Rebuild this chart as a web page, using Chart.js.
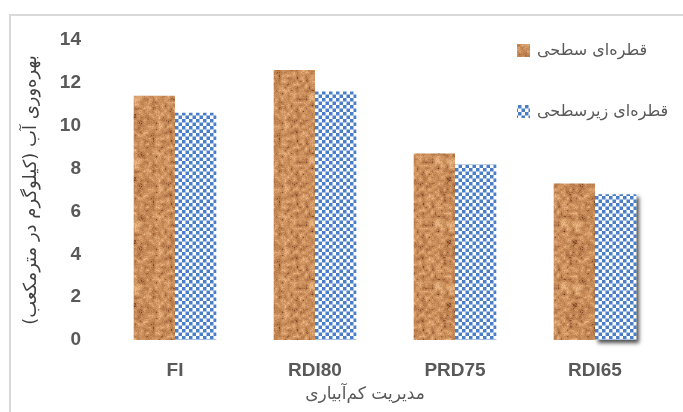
<!DOCTYPE html>
<html>
<head>
<meta charset="utf-8">
<script src="https://cdn.jsdelivr.net/npm/chart.js@4.4.1/dist/chart.umd.min.js"></script>
<style>
    html, body { margin: 0; padding: 0; background: #fff; }
    #wrap { position: relative; width: 683px; height: 412px; }
</style>
</head>
<body>
<div id="wrap"><canvas id="waterChart"></canvas></div>
<script>
// data
let categories = ['FI', 'RDI80', 'PRD75', 'RDI65'];
let surfaceValues = [11.4, 12.6, 8.7, 7.3];      // قطره‌ای سطحی
let subsurfaceValues = [10.6, 11.6, 8.2, 6.8];   // قطره‌ای زیرسطحی
let seriesNames = ['قطره‌ای سطحی', 'قطره‌ای زیرسطحی'];
let yTitle = 'بهره‌وری آب (کیلوگرم در مترمکعب)';
let xTitle = 'مدیریت کم‌آبیاری';

// deterministic hash for the cork texture (not data)
function hash(x, y) {
    let h = (x * 374761393 + y * 668265263) | 0;
    h = (h ^ (h >>> 13)) * 1274126177;
    h = h ^ (h >>> 16);
    return ((h >>> 0) % 1000) / 1000;
}

function makeCork() {
    let size = 63, cell = 3, n = size / cell;
    let c = document.createElement('canvas');
    c.width = size; c.height = size;
    let cx = c.getContext('2d');
    let img = cx.createImageData(size, size);
    for (let y = 0; y < size; y++) {
        for (let x = 0; x < size; x++) {
            let gx = x / cell, gy = y / cell;
            let x0 = Math.floor(gx), y0 = Math.floor(gy);
            let fx = gx - x0, fy = gy - y0;
            let a = hash(x0 % n, y0 % n), b = hash((x0 + 1) % n, y0 % n);
            let d = hash(x0 % n, (y0 + 1) % n), e = hash((x0 + 1) % n, (y0 + 1) % n);
            let v = (a * (1 - fx) + b * fx) * (1 - fy) + (d * (1 - fx) + e * fx) * fy;
            v = v * 0.7 + hash(x + 101, y + 57) * 0.3;
            let r, g, bl;
            if (v < 0.25) {
                let t = v / 0.25;
                r = 100 + t * 80; g = 50 + t * 70; bl = 25 + t * 48;
            } else if (v < 0.65) {
                let t = (v - 0.25) / 0.4;
                r = 180 + t * 32; g = 120 + t * 32; bl = 73 + t * 27;
            } else {
                let t = (v - 0.65) / 0.35;
                r = 212 + t * 30; g = 152 + t * 42; bl = 100 + t * 45;
            }
            let i = (y * size + x) * 4;
            img.data[i] = r; img.data[i + 1] = g; img.data[i + 2] = bl; img.data[i + 3] = 255;
        }
    }
    cx.putImageData(img, 0, 0);
    return cx.createPattern(c, 'repeat');
}

function makeChecker() {
    let c = document.createElement('canvas');
    c.width = 14; c.height = 14;
    let cx = c.getContext('2d');
    cx.fillStyle = '#ffffff';
    cx.fillRect(0, 0, 14, 14);
    cx.fillStyle = '#4a7fc8';
    for (let i = 0; i < 4; i++) {
        for (let j = 0; j < 4; j++) {
            if ((i + j) % 2 === 0) cx.fillRect(i * 3.5, j * 3.5, 3.5, 3.5);
        }
    }
    return cx.createPattern(c, 'repeat');
}

let corkFill = makeCork();
let checkerFill = makeChecker();

// light frame, legend, x title and the shadow under the last bar
let decorPlugin = {
    id: 'decor',
    beforeDraw(chart) {
        let ctx = chart.ctx;
        ctx.save();
        ctx.fillStyle = '#ffffff';
        ctx.fillRect(0, 0, chart.width, chart.height);
        ctx.strokeStyle = '#d9d9d9';
        ctx.lineWidth = 2;
        ctx.beginPath();
        ctx.moveTo(10, chart.height);
        ctx.lineTo(10, 15);
        ctx.lineTo(chart.width, 15);
        ctx.stroke();
        ctx.restore();
    },
    beforeDatasetDraw(chart, args) {
        if (args.index !== 1) return;
        let bar = chart.getDatasetMeta(1).data[3];
        let ctx = chart.ctx;
        ctx.save();
        ctx.shadowColor = 'rgba(0,0,0,0.7)';
        ctx.shadowBlur = 4;
        ctx.shadowOffsetX = 3;
        ctx.shadowOffsetY = 3;
        ctx.fillStyle = '#ffffff';
        ctx.fillRect(bar.x - bar.width / 2, bar.y, bar.width, bar.base - bar.y);
        ctx.restore();
    },
    afterDraw(chart) {
        let ctx = chart.ctx;
        ctx.save();
        let fills = [corkFill, checkerFill];
        let rows = [51, 112];
        ctx.font = '16px "DejaVu Sans"';
        ctx.textBaseline = 'middle';
        ctx.direction = 'rtl';
        ctx.textAlign = 'left';
        for (let i = 0; i < seriesNames.length; i++) {
            ctx.fillStyle = fills[i];
            ctx.fillRect(517, rows[i] - 7, 13, 13);
            ctx.fillStyle = '#595959';
            ctx.fillText(seriesNames[i], 537, rows[i]);
        }
        ctx.font = '17px "DejaVu Sans"';
        ctx.textAlign = 'center';
        ctx.fillText(xTitle, 365, 395);
        ctx.restore();
    }
};

let waterChartEl = document.getElementById('waterChart').getContext('2d');
let waterChart = new Chart(waterChartEl, {
    type: 'bar',
    data: {
        labels: categories,
        datasets: [
            {
                label: seriesNames[0],
                data: surfaceValues,
                backgroundColor: corkFill,
                borderWidth: 0
            },
            {
                label: seriesNames[1],
                data: subsurfaceValues,
                backgroundColor: checkerFill,
                borderWidth: 0
            }
        ]
    },
    options: {
        animation: false,
        responsive: true,
        maintainAspectRatio: false,
        layout: {
            padding: { top: 40, right: 18, bottom: 0, left: 0 }
        },
        datasets: {
            bar: {
                categoryPercentage: 0.59,
                barPercentage: 1
            }
        },
        scales: {
            x: {
                grid: { display: false, drawTicks: false },
                border: { display: false },
                ticks: {
                    color: '#595959',
                    padding: 19,
                    font: { family: 'Liberation Sans', size: 19, weight: 'bold' }
                },
                afterFit(scale) { scale.height = 72; }
            },
            y: {
                min: 0,
                max: 14,
                grid: { display: false, drawTicks: false },
                border: { display: false },
                ticks: {
                    stepSize: 2,
                    color: '#595959',
                    padding: 24,
                    font: { family: 'Liberation Sans', size: 19, weight: 'bold' }
                },
                title: {
                    display: true,
                    text: yTitle,
                    color: '#404040',
                    padding: { top: 21, bottom: 0 },
                    font: { family: 'DejaVu Sans', size: 18 }
                },
                afterFit(scale) { scale.width = 105; }
            }
        },
        plugins: {
            legend: { display: false },
            tooltip: { enabled: false }
        }
    },
    plugins: [decorPlugin]
});
</script>
</body>
</html>
